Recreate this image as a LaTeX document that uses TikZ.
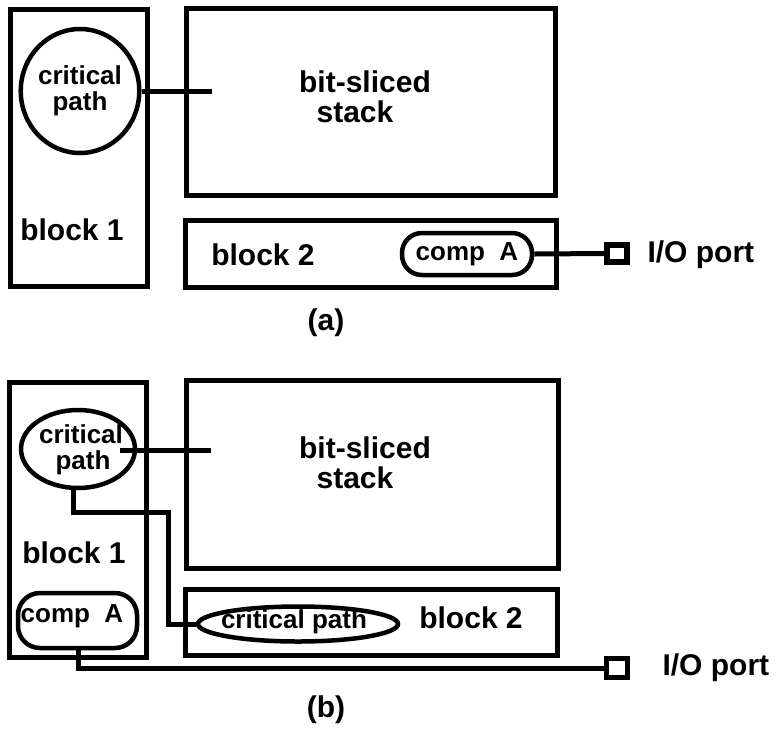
\documentclass[tikz,border=0pt]{standalone}
\usepackage{fontspec}
\setmainfont{Liberation Sans}
\usetikzlibrary{shapes.geometric}
\begin{document}
\begin{tikzpicture}[x=1pt,y=-1pt,
  line width=5pt,
  box/.style={draw,rectangle,inner sep=0pt},
  oval/.style={draw,ellipse,inner sep=0pt,line width=4.5pt},
  pill/.style={draw,rectangle,rounded corners=20pt,inner sep=0pt,line width=4.5pt},
  port/.style={draw,rectangle,inner sep=0pt,minimum width=20pt,minimum height=17pt,line width=5.5pt},
  small/.style={font=\fontsize{26}{28}\selectfont\bfseries,align=center},
  txt/.style={inner sep=0pt,font=\fontsize{30}{32}\selectfont\bfseries,align=center}
]
\useasboundingbox (0,0) rectangle (778,729);
% ---------------- (a) ----------------
\node[box,minimum width=137pt,minimum height=277pt] (b1a) at (78.5,147.5) {};
\node[oval,small,minimum width=114pt,minimum height=124pt] (cpa) at (80,91) {critical\\[-2pt]path};
\node[box,minimum width=369pt,minimum height=187pt] (sta) at (370.5,101.5) {};
\node[txt] (stat) at (365,97) {bit-sliced\\[-2pt]\hspace*{-20pt}stack};
\node[txt] (b1at) at (72,230) {block 1};
\node[box,minimum width=371pt,minimum height=67pt] (b2a) at (370.5,253.5) {};
\node[txt] (b2at) at (263,255) {block 2};
\node[pill,small,minimum width=130pt,minimum height=42pt] (ca) at (467,254) {comp~~A};
\node[port] (pa) at (617,253.5) {};
\node[txt,anchor=west] (pat) at (645,255) {I/O port};
\node[txt] (la) at (326,323) {(a)};
\coordinate (sa) at (212,91);
\draw (cpa.east) -- (sa);
\draw (ca.east) -- (pa.west);
% ---------------- (b) ----------------
\node[box,minimum width=137pt,minimum height=275pt] (b1b) at (77.5,519.5) {};
\node[oval,minimum width=114pt,minimum height=78pt] (cpb) at (78,449) {};
\node[small,inner sep=0pt] (cpbt) at (81,450) {critical\\[-2pt]\hspace*{4pt}path};
\node[box,minimum width=372pt,minimum height=188pt] (stb) at (372,474) {};
\node[txt] (stbt) at (365,463) {bit-sliced\\[-2pt]\hspace*{-20pt}stack};
\node[txt] (b1bt) at (74,553) {block 1};
\node[box,minimum width=372pt,minimum height=66pt] (b2b) at (371,622) {};
\node[txt] (b2bt) at (471,618) {block 2};
\node[oval,minimum width=200pt,minimum height=35pt] (cp2) at (298,624) {};
\node[small,inner sep=0pt] (cp2t) at (294,622) {critical path};
\node[pill,rounded corners=22pt,minimum width=119pt,minimum height=55pt] (cb) at (77.5,620.5) {};
\node[small,inner sep=0pt] (cbt) at (72,616) {comp~~A};
\node[port,minimum width=21pt,minimum height=19pt] (pb) at (617,668) {};
\node[txt,anchor=west] (pbt) at (660,668) {I/O port};
\node[txt] (lb) at (326,710) {(b)};
\coordinate (s1) at (120,450);
\coordinate (s2) at (211,450);
\draw (s1) -- (s2);
\coordinate (w0) at (73,488);
\coordinate (w1) at (168,512);
\draw (w0) |- (w1) |- (cp2.west);
\coordinate (w2) at (78,648);
\draw (w2) |- (pb.west);
\end{tikzpicture}
\end{document}
